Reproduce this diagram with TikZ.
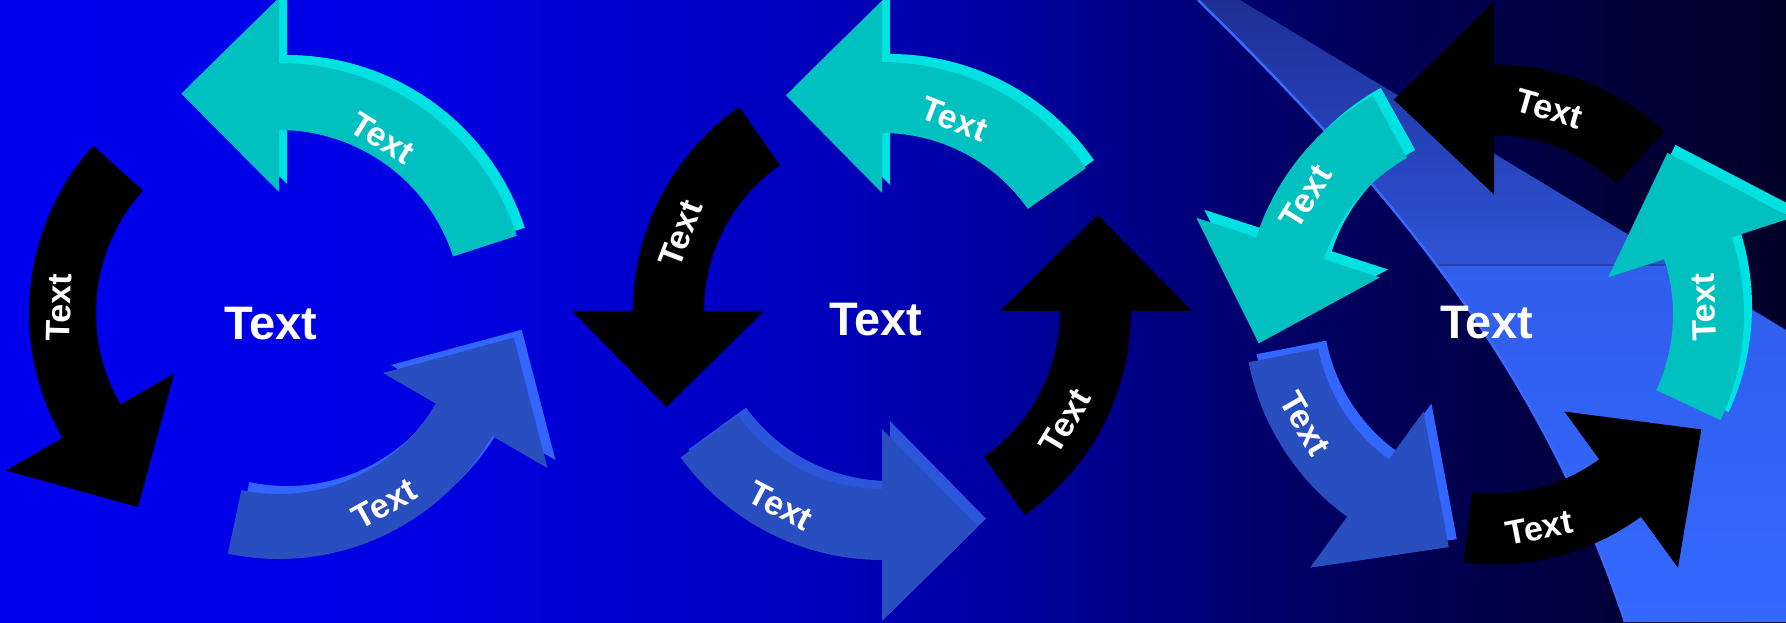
\documentclass[tikz,border=0pt]{standalone}
\usepackage{fontspec}
\setmainfont{Liberation Sans}
\usetikzlibrary{calc}
\definecolor{cyface}{RGB}{0,192,192}
\definecolor{cyside}{RGB}{0,226,226}
\definecolor{blface}{RGB}{40,78,192}
\definecolor{blside}{RGB}{51,102,255}
\definecolor{blsidedim}{RGB}{44,86,218}
\definecolor{bandtop}{RGB}{30,46,150}
\definecolor{bandmid}{RGB}{46,84,214}
\definecolor{bandlow}{RGB}{48,94,236}
\definecolor{bandbot}{RGB}{52,104,255}
\definecolor{bandedge}{RGB}{58,106,255}
\definecolor{bandline}{RGB}{38,66,176}
\pgfdeclarehorizontalshading{bgshade}{100bp}{rgb(0bp)=(0,0,0.933); rgb(25bp)=(0,0,0.933); rgb(36.2bp)=(0,0,0.894); rgb(47.4bp)=(0,0,0.745); rgb(53bp)=(0,0,0.627); rgb(61.4bp)=(0,0,0.392); rgb(69.8bp)=(0,0,0.227); rgb(75bp)=(0,0,0.157); rgb(100bp)=(0,0,0.157)}
\newcommand\arwpath[3]{(#1:\rout) arc[start angle=#1, end angle=#2, radius=\rout pt] -- (#2:\rhout) -- (#3:\rtip) -- (#2:\rhin) -- (#2:\rin) arc[start angle=#2, end angle=#1, radius=\rin pt] -- cycle}
\newcommand\cyarrow[6]{%
  \fill[#6, shift={(#1)}, xshift=8pt, yshift=8pt] \arwpath{#2}{#3}{#4};
  \fill[#5, shift={(#1)}] \arwpath{#2}{#3}{#4};}
\newcommand\flatarrow[4]{%
  \fill[black, shift={(#1)}] \arwpath{#2}{#3}{#4};}
\tikzset{
  lbl/.style={text=white, font=\bfseries\fontsize{34}{40}\selectfont, inner sep=0pt},
  ctr/.style={text=white, font=\bfseries\fontsize{47}{56}\selectfont, inner sep=0pt}
}
\begin{document}
\begin{tikzpicture}[x=1pt, y=1pt]
\useasboundingbox (0,0) rectangle (1786,622);
\clip (0,0) rectangle (1786,622);
% background
\shade[shading=bgshade] (0,0) rectangle (1786,622);
% light band
\begin{scope}
  \clip (1198,622) -- (1240,622) -- (1786,292) -- (1786,0) -- (1625,0) .. controls (1542,250) and (1398,426) .. (1198,622) -- cycle;
  \shade[top color=bandtop, bottom color=bandmid] (1150,357) rectangle (1786,622);
  \shade[top color=bandlow, bottom color=bandbot] (1150,0) rectangle (1786,357);
  \draw[bandline, line width=1.2pt] (1400,357) -- (1786,357);
\end{scope}
\draw[bandedge, line width=2.5pt] (1198,622) .. controls (1398,426) and (1542,250) .. (1625,0);
% centres
\coordinate (c1) at (279,309);
\coordinate (c2) at (882,311);
\coordinate (c3) at (1494,307.5);
% cycle 1
\def\rin{183}\def\rout{250}\def\rhin{121}\def\rhout{315}\def\rtip{240}
\cyarrow{c1}{18}{90}{114}{cyface}{cyside}
\flatarrow{c1}{138}{210}{234}
\def\rin{181}\def\rout{246}\def\rhin{120}\def\rhout{310}\def\rtip{236}
\cyarrow{c1}{258}{330}{354}{blface}{blside}
% cycle 2
\def\rin{178}\def\rout{249}\def\rhin{118}\def\rhout{310}\def\rtip{236}
\cyarrow{c2}{35}{90}{114}{cyface}{cyside}
\flatarrow{c2}{125}{180}{204}
\cyarrow{c2}{216}{270}{294}{blface}{blsidedim}
\flatarrow{c2}{305}{360}{384}
% cycle 3
\def\rin{179}\def\rout{250}\def\rhin{120}\def\rhout{313}\def\rtip{237}
\flatarrow{c3}{47}{90}{115}
\cyarrow{c3}{119}{162}{187}{cyface}{cyside}
\cyarrow{c3}{191}{234}{259}{blface}{blside}
\flatarrow{c3}{263}{306}{331}
\cyarrow{c3}{335}{378}{403}{cyface}{cyside}
% labels cycle 1
\node[ctr] (t1) at (271,298) {Text};
\node[lbl, rotate=-32] (t1a) at ([shift={(59.4:203)}]c1) {Text};
\node[lbl, rotate=88.6] (t1b) at ([shift={(178.6:220)}]c1) {Text};
\node[lbl, rotate=29] (t1c) at ([shift={(299:218)}]c1) {Text};
% labels cycle 2
\node[ctr] (t2) at (876,302) {Text};
\node[lbl, rotate=-21] (t2a) at ([shift={(69.3:205)}]c2) {Text};
\node[lbl, rotate=69] (t2b) at ([shift={(159:216)}]c2) {Text};
\node[lbl, rotate=-27.5] (t2c) at ([shift={(242.5:220)}]c2) {Text};
\node[lbl, rotate=59] (t2d) at ([shift={(329:214)}]c2) {Text};
% labels cycle 3
\node[ctr] (t3) at (1487,299.5) {Text};
\node[lbl, rotate=-16] (t3a) at ([shift={(75:213)}]c3) {Text};
\node[lbl, rotate=58] (t3b) at ([shift={(148:222)}]c3) {Text};
\node[lbl, rotate=-60] (t3c) at ([shift={(210:218)}]c3) {Text};
\node[lbl, rotate=11] (t3d) at ([shift={(282:218)}]c3) {Text};
\node[lbl, rotate=92] (t3e) at ([shift={(2:210)}]c3) {Text};
\end{tikzpicture}
\end{document}
